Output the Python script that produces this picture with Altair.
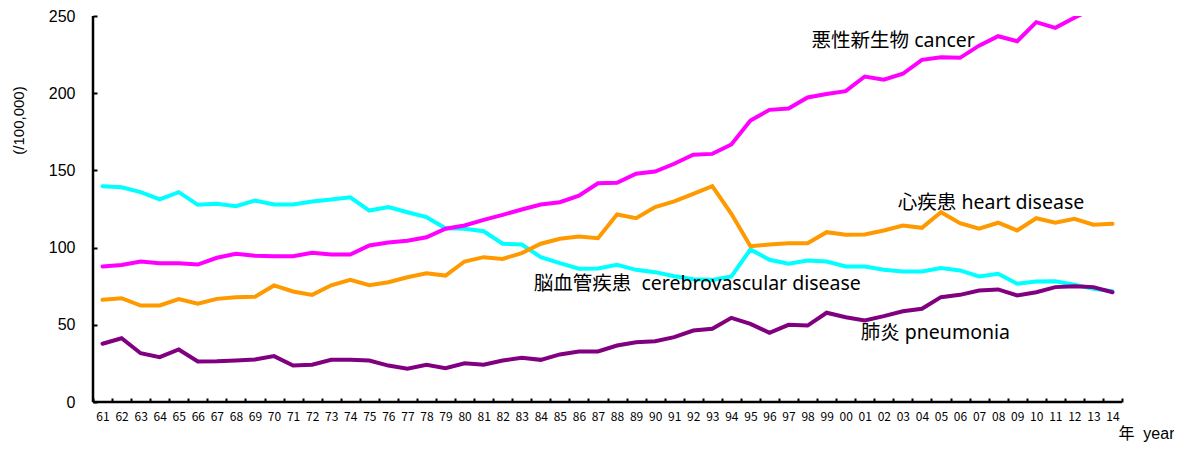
import altair as alt
import pandas as pd

years = ["61", "62", "63", "64", "65", "66", "67", "68", "69", "70",
         "71", "72", "73", "74", "75", "76", "77", "78", "79", "80",
         "81", "82", "83", "84", "85", "86", "87", "88", "89", "90",
         "91", "92", "93", "94", "95", "96", "97", "98", "99", "00",
         "01", "02", "03", "04", "05", "06", "07", "08", "09", "10",
         "11", "12", "13", "14"]

cancer = [87.8, 88.8, 91, 89.9, 89.9, 89, 93.4, 96, 94.7, 94.4,
          94.4, 96.6, 95.5, 95.5, 101.4, 103.3, 104.4, 106.7, 112.2, 114.3,
          118, 121.2, 124.7, 127.9, 129.4, 133.7, 141.7, 142, 147.8, 149.3,
          154.3, 160.1, 160.7, 166.8, 182.3, 189.2, 190.1, 197.2, 199.5, 201.3,
          210.8, 208.7, 212.6, 221.6, 223.3, 222.9, 230.8, 236.9, 233.7, 246,
          242.3, 248.8, 255, 260]

cerebro = [139.8, 139.1, 135.9, 131.2, 135.9, 127.7, 128.4, 126.8, 130.5, 127.9,
           127.9, 129.9, 131.2, 132.6, 124, 126.2, 122.9, 119.7, 112.6, 112.2,
           110.6, 102.5, 102, 93.8, 89.9, 86.3, 86.5, 88.9, 85.6, 84.1,
           81.5, 79.5, 79.1, 81.3, 98.8, 92.1, 89.5, 91.6, 91, 87.8,
           87.8, 85.6, 84.5, 84.5, 86.7, 85.2, 81.3, 83, 76.6, 78,
           78.2, 75.9, 73.3, 71.8]

heart = [66.2, 67.2, 62.5, 62.5, 66.6, 63.6, 66.8, 67.9, 68.1, 75.5,
         71.6, 69.4, 75.6, 79.1, 75.6, 77.6, 80.8, 83.4, 81.9, 91,
         93.8, 92.7, 96.4, 102.5, 105.7, 107.2, 106.1, 121.4, 119, 126.2,
         129.9, 134.8, 139.8, 121.9, 100.9, 102, 102.8, 102.8, 110, 108.3,
         108.5, 111.1, 114.3, 112.8, 122.9, 115.8, 112.2, 116.1, 111.1, 119,
         116.1, 118.7, 114.8, 115.4]

pneumonia = [37.7, 41.3, 31.6, 29, 34, 26.2, 26.4, 26.9, 27.5, 29.7,
             23.6, 24.1, 27.3, 27.3, 26.9, 23.6, 21.5, 24.1, 21.9, 25.1,
             24.1, 26.9, 28.6, 27.3, 30.8, 32.7, 32.7, 36.6, 38.7, 39.4,
             42, 46.3, 47.4, 54.5, 50.6, 44.8, 50, 49.5, 57.8, 54.9,
             52.8, 55.6, 58.8, 60.4, 67.9, 69.4, 72.2, 72.9, 69, 71.1,
             74.4, 75, 74.4, 71.1]

series_names = ["cerebro", "heart", "cancer", "pneumonia"]
series_values = [cerebro, heart, cancer, pneumonia]
series_colors = ["#00FFFF", "#FF9900", "#FF00FF", "#800080"]

label_texts = ["悪性新生物 cancer", "心疾患 heart disease",
               "脳血管疾患\u00a0 cerebrovascular disease", "肺炎 pneumonia"]
label_years = ["98", "03", "84", "01"]
label_values = [233.5, 129.2, 76.7, 44.4]
label_dx = [4, -5, -7, -4]

y_ticks = [0, 50, 100, 150, 200, 250]

W, H = 1029, 386
CJK = "Noto Sans, Noto Sans CJK JP"

xscale = alt.Scale(type="band", domain=years, paddingInner=0, paddingOuter=0)
yscale = alt.Scale(domain=[0, 250], nice=False, zero=True)

xaxis = alt.Axis(title="年\u00a0\u00a0year", domain=False, grid=False, tickBand="extent",
                 tickSize=4, tickWidth=2, tickColor="black", offset=-4,
                 labelAngle=0, labelFont="Noto Sans CJK JP", labelFontSize=12,
                 labelColor="black", labelPadding=9,
                 titleFont="Liberation Sans, Noto Sans CJK JP", titleFontSize=16,
                 titleFontWeight="normal",
                 titleColor="black", titleAnchor="end", titleAlign="right",
                 titleX=W + 52, titleY=35, titleBaseline="middle")
yaxis = alt.Axis(title="(/100,000)", domain=False, grid=False, values=y_ticks,
                 tickSize=4, tickWidth=2, tickColor="black", offset=-4,
                 labelFont="Liberation Sans", labelFontSize=16, labelColor="black",
                 labelPadding=18, titleFont="Liberation Sans", titleFontSize=15,
                 titleFontWeight="normal", titleColor="black", titleAngle=270,
                 titleX=-79, titleY=104, titleAlign="center", titleBaseline="middle")

layers = []
for name, vals, col in zip(series_names, series_values, series_colors):
    df = pd.DataFrame({"year": years, "value": vals})
    layers.append(
        alt.Chart(df).mark_line(color=col, strokeWidth=4, strokeCap="round", clip=True)
        .encode(x=alt.X("year:O", scale=xscale, axis=xaxis, sort=years),
                y=alt.Y("value:Q", scale=yscale, axis=yaxis))
    )

# axis domain lines
zero_df = pd.DataFrame({"v": [0]})
layers.append(alt.Chart(zero_df).mark_rule(color="black", strokeWidth=2.5)
              .encode(y=alt.Y("v:Q", scale=yscale, axis=yaxis),
                      x=alt.value(0), x2=alt.value(W)))
layers.append(alt.Chart(zero_df).mark_rule(color="black", strokeWidth=2.5)
              .encode(x=alt.value(0), y=alt.value(0), y2=alt.value(H)))

for t, yr, v, dx in zip(label_texts, label_years, label_values, label_dx):
    ldf = pd.DataFrame({"year": [yr], "value": [v], "t": [t]})
    layers.append(
        alt.Chart(ldf).mark_text(align="left", baseline="middle", dx=dx, font=CJK,
                                 fontSize=19.5, color="black")
        .encode(x=alt.X("year:O", scale=xscale, axis=xaxis, sort=years),
                y=alt.Y("value:Q", scale=yscale, axis=yaxis),
                text="t:N")
    )

chart = alt.layer(*layers).properties(
    width=W, height=H,
    autosize=alt.AutoSizeParams(type="none"),
    padding={"left": 85, "top": 8, "right": 52, "bottom": 42},
    background="white",
).configure_view(stroke=None)

chart.save("out.html", embed_options={"renderer": "svg", "actions": False})
